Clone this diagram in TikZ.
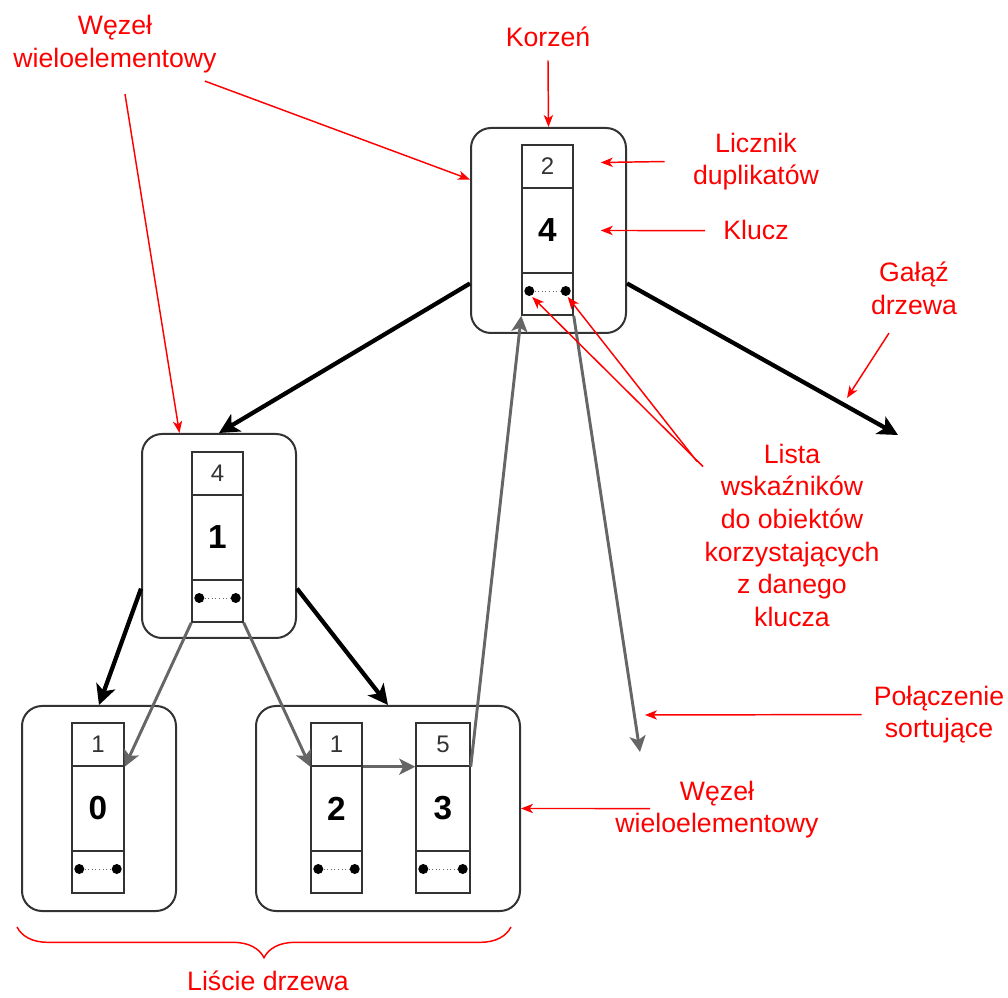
\documentclass[tikz,border=0pt]{standalone}
\usepackage{fontspec}
\setmainfont{Liberation Sans}
\usetikzlibrary{arrows.meta,calc,fit,decorations.pathreplacing}
\definecolor{boxgray}{HTML}{333333}
\definecolor{sortgray}{HTML}{666666}
\definecolor{notered}{HTML}{FF0000}
\newcommand\keycol[6]{%
  \node[cell, fit={(#2,#4) (#3,#4+43)}] (#1c) {};
  \node[cntf] at (#1c.center) {#5};
  \node[cell, fit={(#2,#4+43) (#3,#4+128)}] (#1k) {};
  \node[keyf] at (#1k.center) {#6};
  \node[cell, fit={(#2,#4+128) (#3,#4+170)}] (#1l) {};
  \node[ptdot] (#1a) at ($(#1l.west)+(8,-3)$) {};
  \node[ptdot] (#1b) at ($(#1l.east)+(-8,-3)$) {};
  \draw[dotted, sortgray, line width=0.7pt] (#1a) -- (#1b);
}
\begin{document}
\begin{tikzpicture}[x=0.75pt,y=-0.75pt,
  outer/.style={draw=boxgray, line width=1.5pt, rounded corners=15pt, inner sep=0pt},
  cell/.style={draw=boxgray, line width=1.1pt, inner sep=0pt},
  cntf/.style={font=\fontsize{18}{21}\selectfont, text=boxgray, inner sep=0pt},
  keyf/.style={font=\bfseries\fontsize{25}{30}\selectfont, text=black, inner sep=0pt},
  ptdot/.style={circle, fill=black, inner sep=0pt, minimum size=7.5pt},
  branch/.style={-{Stealth[length=15pt,width=15pt,inset=4pt]}, line width=3.2pt, draw=black},
  sortl/.style={-{Stealth[length=12pt,width=12pt,inset=3pt]}, line width=2.2pt, draw=sortgray},
  note/.style={-{Stealth[length=9pt,width=7pt,inset=2.5pt]}, line width=1.1pt, draw=notered},
  lbl/.style={text=notered, font=\fontsize{20}{24.5}\selectfont, align=center, inner sep=0pt, anchor=north}]
\useasboundingbox (0,0) rectangle (1008,998);

% outer multi-element nodes
\node[outer, fit={(471,128) (626,333)}] (root) {};
\node[outer, fit={(142,434) (296,638)}] (left) {};
\node[outer, fit={(22,706) (176,911)}] (leafA) {};
\node[outer, fit={(256,706) (520,911)}] (leafB) {};

% key columns
\keycol{r}{522}{573}{145}{2}{4}
\keycol{l}{192}{243}{452}{4}{1}
\keycol{a}{72}{124}{723}{1}{0}
\keycol{b}{311}{362}{723}{1}{2}
\keycol{d}{416}{470}{723}{5}{3}

% tree branches
\coordinate (brEnd) at (898,435);
\draw[branch] (root.214) -- (left.north);
\draw[branch] (root.326) -- (brEnd);
\draw[branch] (left.214) -- (leafA.north);
\draw[branch] (left.326) -- (leafB.north);

% sorting links
\coordinate (sortEnd) at (640,752);
\draw[sortl] (ll.south west) -- (ac.south east);
\draw[sortl] (ll.south east) -- (bc.south west);
\draw[sortl] (bc.south east) -- (dc.south west);
\draw[sortl] (dc.south east) -- (rl.south west);
\draw[sortl] (rl.south east) -- (sortEnd);

% labels
\node[lbl] (kor) at (548,27) {Korzeń};
\node[lbl] (wz1) at (115,15) {Węzeł\\wieloelementowy};
\node[lbl] (lic) at (756,132.5) {Licznik\\duplikatów};
\node[lbl] (klu) at (756,219.5) {Klucz};
\node[lbl] (gal) at (914,262) {Gałąź\\drzewa};
\node[lbl] (lis) at (792,443.5) {Lista\\wskaźników\\do obiektów\\korzystających\\z danego\\klucza};
\node[lbl] (pol) at (939,685.5) {Połączenie\\sortujące};
\node[lbl] (wz2) at (717,780.5) {Węzeł\\wieloelementowy};
\node[lbl] (lsc) at (268,971) {Liście drzewa};

% annotation arrows
\coordinate (galTip) at (847,398);
\coordinate (polTip) at (645,715);
\draw[note] ($(kor.south)+(0,13)$) -- (root.north);
\draw[note] ($(wz1.south east)+(-12,8)$) -- (root.147);
\draw[note] ($(wz1.south)+(10,21)$) -- (left.111);
\draw[note] ($(lic.west)+(-28,0)$) -- ($(rc.east)+(27,-4)$);
\draw[note] ($(klu.west)+(-18,1)$) -- ($(rk.east)+(27,0)$);
\draw[note] ($(gal.south)+(-25,18)$) -- (galTip);
\draw[note] ($(lis.north)+(-89,23)$) -- ($(ra)+(3,6)$);
\draw[note] ($(lis.north)+(-95,18)$) -- ($(rb)+(2,6)$);
\draw[note] ($(pol.west)+(-12,0)$) -- (polTip);
\draw[note] ($(wz2.west)+(35,-1)$) -- (leafB.east);

% brace under leaves
\draw[notered, line width=1.1pt, decorate, decoration={brace, mirror, amplitude=23pt}] (17,927) -- (511,927);
\end{tikzpicture}
\end{document}
